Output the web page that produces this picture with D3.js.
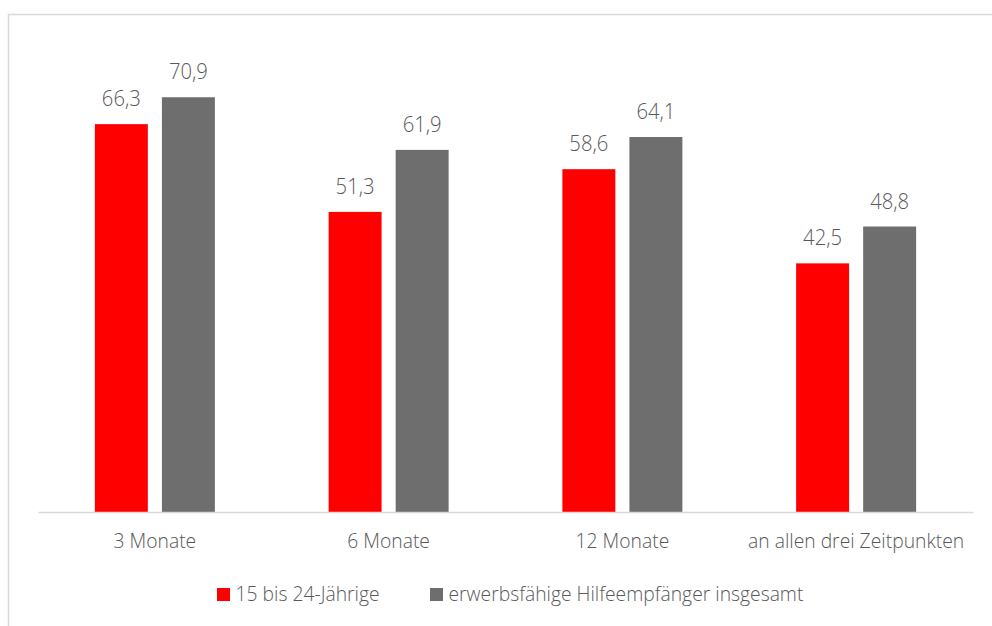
<!DOCTYPE html>
<html>
<head>
<meta charset="utf-8">
<script src="https://cdn.jsdelivr.net/npm/d3@7"></script>
<style>
  body { margin: 0; background: #fff; }
  text { font-family: "Open Sans", sans-serif; fill: #595959; }
</style>
</head>
<body>
<svg id="chart" width="992" height="626"></svg>
<script>
var categories = ['3 Monate', '6 Monate', '12 Monate', 'an allen drei Zeitpunkten'];
var seriesNames = ['15 bis 24-Jährige', 'erwerbsfähige Hilfeempfänger insgesamt'];
var youngValues = [66.3, 51.3, 58.6, 42.5];
var totalValues = [70.9, 61.9, 64.1, 48.8];
var colors = ['#FF0000', '#6E6E6E'];

var svg = d3.select('#chart');
var margin = { top: 44, left: 38, right: 19, bottom: 114 };
var width = 992, height = 626;
var squeeze = 'scale(0.92,1)';

// chart border
svg.append('rect')
   .attr('x', 8.5).attr('y', 14.5)
   .attr('width', 1000).attr('height', 700)
   .attr('fill', 'none')
   .attr('stroke', '#D9D9D9')
   .attr('stroke-width', 1.5);

var x0 = d3.scaleBand().domain(categories).range([margin.left, width - margin.right]);
var x1 = d3.scaleBand().domain([0, 1]).range([0, 120]).paddingInner(0.21);
var y = d3.scaleLinear().domain([0, 80]).range([height - margin.bottom, margin.top]);

var data = categories.map(function(c, i) {
  return { cat: c, values: [youngValues[i], totalValues[i]] };
});

var groups = svg.append('g').selectAll('g').data(data).enter().append('g')
                .attr('transform', d => 'translate(' + (x0(d.cat) + x0.bandwidth() / 2 - 60) + ',0)');

groups.selectAll('rect').data(d => d.values).enter().append('rect')
      .attr('x', (v, i) => x1(i))
      .attr('y', v => y(v))
      .attr('width', x1.bandwidth())
      .attr('height', v => y(0) - y(v))
      .attr('fill', (v, i) => colors[i]);

groups.selectAll('text.val').data(d => d.values).enter().append('text')
      .attr('class', 'val')
      .attr('transform', (v, i) => 'translate(' + (x1(i) + x1.bandwidth() / 2) + ',' + (y(v) - 18) + ') ' + squeeze)
      .attr('text-anchor', 'middle')
      .attr('font-size', 22)
      .attr('font-weight', 350)
      .text(v => d3.format('.1f')(v).replace('.', ','));

// baseline axis
var xAxis = svg.append('g')
   .attr('transform', 'translate(0,' + y(0) + ')')
   .call(d3.axisBottom(x0).tickSize(0).tickPadding(0));
xAxis.select('.domain').attr('stroke', '#D9D9D9').attr('stroke-width', 1.5);
xAxis.selectAll('text')
     .attr('y', 36).attr('dy', null)
     .attr('transform', squeeze)
     .attr('font-size', 21).attr('font-weight', 350).attr('fill', '#595959')
     .style('font-family', '"Open Sans", sans-serif');

// legend
var legendX = [217, 430];
var legend = svg.append('g').selectAll('g').data(seriesNames).enter().append('g')
                .attr('transform', (d, i) => 'translate(' + legendX[i] + ',588)');
legend.append('rect').attr('width', 13).attr('height', 13).attr('fill', (d, i) => colors[i]);
legend.append('text')
      .attr('transform', 'translate(18.5,13) ' + squeeze)
      .attr('font-size', 21).attr('font-weight', 350)
      .text(d => d);
</script>
</body>
</html>
